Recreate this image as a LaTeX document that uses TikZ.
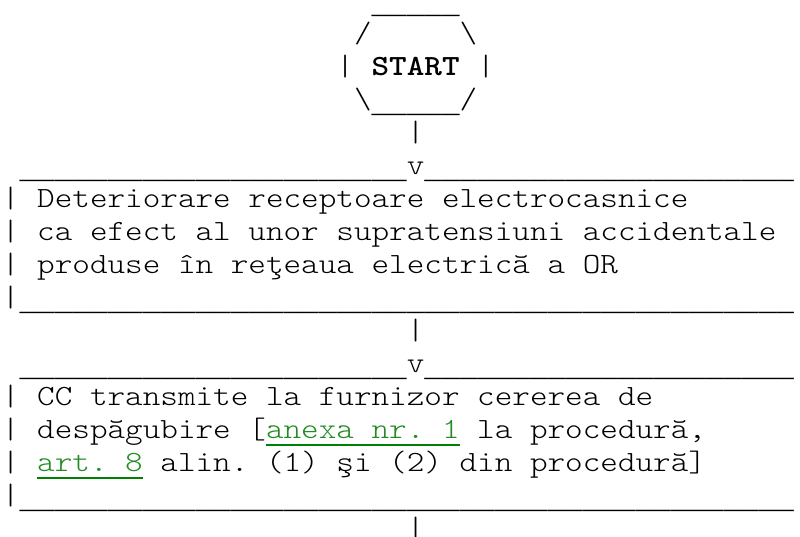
\documentclass[tikz,border=0pt]{standalone}
\usepackage{fontspec}
\usepackage{xcolor}
\usetikzlibrary{positioning}
\newfontfamily\asciifont{lmmonolt10-regular.otf}[BoldFont=lmmonolt10-bold.otf, FakeStretch=1.1429]
\newfontfamily\barfont{Liberation Mono}
\definecolor{linktext}{RGB}{34,139,34}
\definecolor{linkbar}{RGB}{0,128,0}
\newcommand{\bars}[1]{\raisebox{-3pt}{\barfont\foreach \i in {1,...,#1}{\_}}}
\tikzset{
  row/.style={anchor=base west, inner sep=0pt, outer sep=0pt, font=\fontsize{22}{24}\asciifont\frenchspacing},
  link/.style={row, text=linktext},
  linkline/.style={linkbar, line width=1.5pt}
}

\begin{document}
\begin{tikzpicture}[x=13.2pt, y=-24.75pt]
\useasboundingbox (-0.1136,-0.2727) rectangle (45.341,15.9697);

% start hexagon
\node[row] (hextop) at (21,0) {\bars{5}};
\node[row] (hexup) at (20,1) {/~~~~~\textbackslash};
\node[row] (start) at (19,2) {|~\textbf{START}~|};
\node[row] (hexlow) at (20,3) {\textbackslash\bars{5}/};
\node[row] (pipe1) at (23,4) {|};

% first box
\node[row] (bar1) at (1,5) {\bars{22}v\bars{21}};
\node[row] (box1a) at (0,6) {|~Deteriorare receptoare electrocasnice};
\node[row] (box1b) at (0,7) {|~ca efect al unor supratensiuni accidentale};
\node[row] (box1c) at (0,8) {|~produse în reţeaua electrică a OR};
\node[row] (box1end) at (0,9) {|\bars{44}};
\node[row] (pipe2) at (23,10) {|};

% second box
\node[row] (bar2) at (1,11) {\bars{22}v\bars{21}};
\node[row] (box2a) at (0,12) {|~CC transmite la furnizor cererea de};
\node[row] (box2b) at (0,13) {|~despăgubire~[};
\node[link] (anexa) at (15,13) {anexa nr. 1};
\node[row] (box2bb) at (26,13) {~la procedură,};
\node[link] (art) at (2,14) {art. 8};
\node[row] (box2c) at (0,14) {|~};
\node[row] (box2cc) at (8,14) {~alin. (1) şi (2) din procedură]};
\node[row] (box2end) at (0,15) {|\bars{44}};
\node[row] (pipe3) at (23,16) {|};

\draw[linkline] ([yshift=-5.6pt]anexa.base west) -- ([yshift=-5.6pt]anexa.base east);
\draw[linkline] ([yshift=-5.4pt]art.base west) -- ([yshift=-5.4pt]art.base east);
\end{tikzpicture}
\end{document}
